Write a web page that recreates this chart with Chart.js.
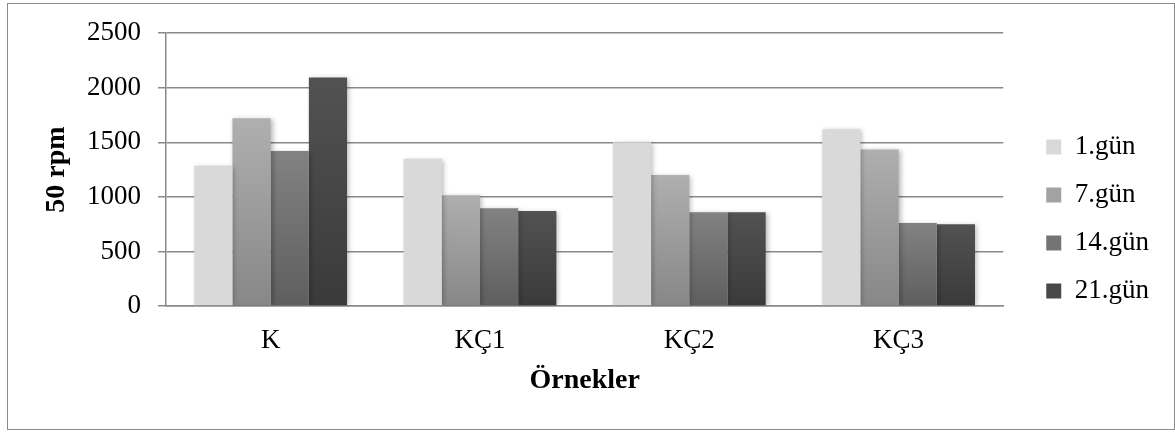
<!DOCTYPE html>
<html lang="tr">
<head>
<meta charset="utf-8">
<title>50 rpm viskozite</title>
<script src="https://cdn.jsdelivr.net/npm/chart.js@4.4.1/dist/chart.umd.min.js"></script>
<style>
  html, body { margin: 0; padding: 0; background: #ffffff; }
  #wrap { position: relative; width: 1175px; height: 432px; }
  #frame {
    position: absolute; left: 7px; top: 3px; width: 1166px; height: 425px;
    border: 1px solid #8a8a8a; pointer-events: none;
  }
  canvas { position: absolute; left: 0; top: 0; }
</style>
</head>
<body>
<div id="wrap">
  <canvas id="chart" width="1175" height="432"></canvas>
  <div id="frame"></div>
</div>
<script>
// Samples (x categories) and storage days (series)
const categories = ['K', 'KÇ1', 'KÇ2', 'KÇ3'];
const seriesNames = ['1.gün', '7.gün', '14.gün', '21.gün'];

// Viscosity at 50 rpm for each day
const day1  = [1285, 1350, 1500, 1620];
const day7  = [1720, 1015, 1200, 1435];
const day14 = [1420,  895,  860,  760];
const day21 = [2095,  870,  860,  750];

// Y axis ticks
const yTicks = [0, 500, 1000, 1500, 2000, 2500];

// Fill colours: [top, bottom] of each bar's vertical gradient
const fills = [
  ['#d9d9d9', '#d9d9d9'],
  ['#afafaf', '#878787'],
  ['#828282', '#5e5e5e'],
  ['#525252', '#3a3a3a']
];
const legendFills = ['#d9d9d9', '#a2a2a2', '#747474', '#484848'];

const SERIF = '"Liberation Serif", "Times New Roman", serif';

function gradientFill(pair) {
  return (c) => {
    const chart = c.chart;
    if (c.type !== 'data' || !chart.chartArea || !c.parsed) return pair[0];
    const y = chart.scales.y;
    const top = y.getPixelForValue(c.parsed.y);
    const base = y.getPixelForValue(0);
    if (!isFinite(top) || !isFinite(base) || top === base) return pair[0];
    const g = chart.ctx.createLinearGradient(0, top, 0, base);
    g.addColorStop(0, pair[0]);
    g.addColorStop(1, pair[1]);
    return g;
  };
}

const seriesData = [day1, day7, day14, day21];

// Soft drop shadow behind the bars
const barShadow = {
  id: 'barShadow',
  beforeDatasetsDraw(chart) {
    const ctx = chart.ctx;
    ctx.save();
    ctx.shadowColor = 'rgba(0,0,0,0.28)';
    ctx.shadowBlur = 5;
    ctx.shadowOffsetX = 2;
    ctx.shadowOffsetY = 1;
  },
  afterDatasetsDraw(chart) {
    chart.ctx.restore();
  }
};

new Chart(document.getElementById('chart'), {
  type: 'bar',
  data: {
    labels: categories,
    datasets: seriesNames.map((name, i) => ({
      label: name,
      data: seriesData[i],
      backgroundColor: gradientFill(fills[i]),
      borderWidth: 0,
      categoryPercentage: 0.73,
      barPercentage: 1.0
    }))
  },
  options: {
    responsive: false,
    animation: false,
    devicePixelRatio: 1,
    layout: { padding: { left: 10, top: 33, right: 16, bottom: 27 } },
    plugins: {
      tooltip: { enabled: false },
      legend: {
        position: 'right',
        align: 'center',
        labels: {
          boxWidth: 15,
          boxHeight: 15,
          padding: 21,
          color: '#000000',
          font: { family: SERIF, size: 27 },
          generateLabels(ch) {
            return ch.data.datasets.map((ds, i) => ({
              text: ds.label,
              fillStyle: legendFills[i],
              strokeStyle: legendFills[i],
              lineWidth: 0,
              hidden: false,
              datasetIndex: i,
              fontColor: '#000000'
            }));
          }
        }
      }
    },
    scales: {
      x: {
        grid: { display: false, drawTicks: false },
        border: { display: true, color: '#898989', width: 1.5 },
        ticks: { color: '#000000', padding: 19, font: { family: SERIF, size: 27 } },
        title: {
          display: true,
          text: 'Örnekler',
          color: '#000000',
          font: { family: SERIF, size: 28, weight: 'bold' },
          padding: { top: 0, bottom: 7 }
        },
        afterFit(s) { s.height = 99; }
      },
      y: {
        min: 0,
        max: 2500,
        afterBuildTicks(s) { s.ticks = yTicks.map(v => ({ value: v })); },
        grid: { color: '#898989', lineWidth: 1.5, drawTicks: true, tickLength: 8 },
        border: { display: true, color: '#898989', width: 1.5 },
        ticks: {
          color: '#000000',
          padding: 17,
          font: { family: SERIF, size: 27 },
          callback: (v) => String(v)
        },
        title: {
          display: true,
          text: '50 rpm',
          color: '#000000',
          font: { family: SERIF, size: 28, weight: 'bold' },
          padding: { top: 30, bottom: 0 }
        },
        afterFit(s) { s.width = 156; }
      },
      gap: {
        type: 'linear',
        position: 'right',
        display: true,
        grid: { display: false, drawTicks: false },
        border: { display: false },
        ticks: { display: false },
        afterFit(s) { s.width = 22; }
      }
    }
  },
  plugins: [barShadow]
});
</script>
</body>
</html>
